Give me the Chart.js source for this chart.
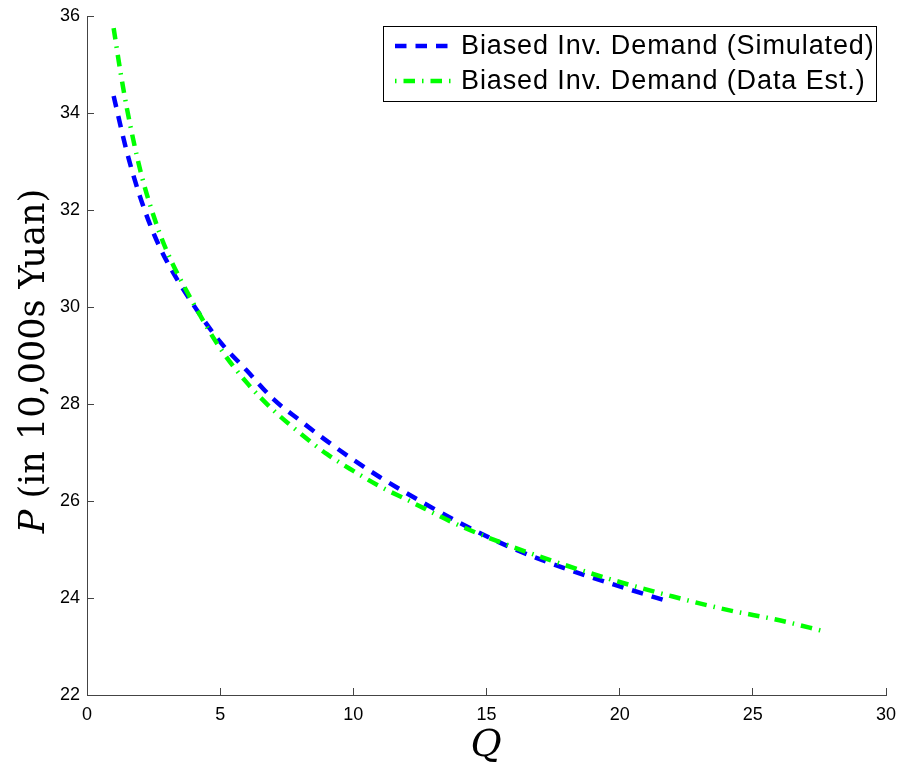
<!DOCTYPE html>
<html>
<head>
<meta charset="utf-8">
<script src="https://cdn.jsdelivr.net/npm/chart.js@4.4.0/dist/chart.umd.min.js"></script>
<style>
    html, body { margin: 0; padding: 0; background: #fff; }
    #wrap { width: 901px; height: 763px; }
</style>
</head>
<body>
<div id="wrap"><canvas id="demandChart" width="901" height="763"></canvas></div>
<script>
// Biased inverse demand, simulated
const simQ = [1, 1.5, 2, 2.5, 3, 4, 5, 6, 7, 8, 9, 10, 11, 12, 14, 16, 18, 20, 21.7];
const simP = [34.35, 33.19, 32.26, 31.52, 30.94, 30.04, 29.28, 28.69, 28.10, 27.66, 27.24, 26.85, 26.49, 26.16, 25.55, 25.02, 24.60, 24.24, 23.95];

// Biased inverse demand, estimated from data
const estQ = [1, 1.25, 1.5, 2, 2.5, 3, 4, 5, 6, 7, 8, 9, 10, 11, 12, 14, 16, 18, 20, 22, 24, 26, 27.7];
const estP = [35.75, 34.87, 34.09, 32.82, 31.88, 31.15, 30.07, 29.15, 28.44, 27.87, 27.40, 26.97, 26.62, 26.30, 26.03, 25.49, 25.05, 24.67, 24.33, 24.03, 23.76, 23.54, 23.31];

// Axis ticks
const xTicks = [0, 5, 10, 15, 20, 25, 30];
const yTicks = [22, 24, 26, 28, 30, 32, 34, 36];

const seriesLabels = ['Biased Inv. Demand (Simulated)', 'Biased Inv. Demand (Data Est.)'];

const toPoints = (xs, ys) => xs.map((x, i) => ({ x: x, y: ys[i] }));

// legend box drawn inside the plot, top right
const legendBox = {
    id: 'legendBox',
    afterDatasetsDraw(chart) {
        const ctx = chart.ctx;
        const left = 383, top = 26, right = 876, bottom = 101;
        ctx.save();
        ctx.fillStyle = '#fff';
        ctx.fillRect(left, top, right - left, bottom - top);
        ctx.strokeStyle = '#000';
        ctx.lineWidth = 1;
        ctx.strokeRect(left + 0.5, top + 0.5, right - left, bottom - top);

        const rows = [46, 81];
        // rows: simulated first, then data est.
        const ds = [chart.data.datasets[1], chart.data.datasets[0]];
        const offsets = [0, 18.5];
        ds.forEach((d, i) => {
            ctx.beginPath();
            ctx.setLineDash(d.borderDash);
            ctx.lineDashOffset = offsets[i];
            ctx.strokeStyle = d.borderColor;
            ctx.lineWidth = d.borderWidth;
            ctx.moveTo(395, rows[i]);
            ctx.lineTo(454, rows[i]);
            ctx.stroke();
        });
        ctx.setLineDash([]);
        ctx.fillStyle = '#000';
        ctx.font = '27px "Liberation Sans", Arial, sans-serif';
        ctx.letterSpacing = '0.9px';
        ctx.textBaseline = 'middle';
        ctx.textAlign = 'left';
        ctx.fillText(seriesLabels[0], 461, rows[0] + 1);
        ctx.fillText(seriesLabels[1], 461, rows[1] + 1);
        ctx.restore();
    }
};

// axis titles in serif, with italic variable names
const axisTitles = {
    id: 'axisTitles',
    afterDraw(chart) {
        const ctx = chart.ctx;
        ctx.save();
        ctx.fillStyle = '#000';
        ctx.textBaseline = 'alphabetic';

        // x title
        ctx.font = 'italic 38px "DejaVu Serif", serif';
        ctx.textAlign = 'center';
        ctx.fillText('Q', 486, 756);

        // y title, rotated
        const italicFont = 'italic 35px "DejaVu Serif", serif';
        const plainFont = '35px "DejaVu Serif", serif';
        ctx.font = italicFont;
        const wP = ctx.measureText('P').width;
        ctx.font = plainFont;
        const rest = ' (in 10,000s Yuan)';
        const wRest = ctx.measureText(rest).width;
        const total = wP + wRest;
        ctx.translate(44, 361);
        ctx.rotate(-Math.PI / 2);
        ctx.textAlign = 'left';
        ctx.font = italicFont;
        ctx.fillText('P', -total / 2, 0);
        ctx.font = plainFont;
        ctx.fillText(rest, -total / 2 + wP, 0);
        ctx.restore();
    }
};

document.addEventListener('DOMContentLoaded', () => {
    const ctx = document.getElementById('demandChart').getContext('2d');
    const tickFont = { family: '"Liberation Sans", Arial, sans-serif', size: 18 };

    new Chart(ctx, {
        type: 'line',
        data: {
            datasets: [{
                label: seriesLabels[1],
                data: toPoints(estQ, estP),
                borderColor: '#00ff00',
                borderWidth: 4.5,
                borderDash: [11.5, 7, 1.5, 7],
                borderCapStyle: 'butt',
                pointRadius: 0,
                cubicInterpolationMode: 'monotone',
                fill: false,
                order: 0
            }, {
                label: seriesLabels[0],
                data: toPoints(simQ, simP),
                borderColor: '#0000ff',
                borderWidth: 4.5,
                borderDash: [11.5, 9],
                borderCapStyle: 'butt',
                pointRadius: 0,
                cubicInterpolationMode: 'monotone',
                fill: false,
                order: 1
            }]
        },
        options: {
            responsive: false,
            animation: false,
            events: [],
            layout: {
                padding: { top: 16, right: 15, left: 0, bottom: 0 }
            },
            plugins: {
                legend: { display: false },
                tooltip: { enabled: false }
            },
            scales: {
                x: {
                    type: 'linear',
                    min: 0,
                    max: 30,
                    afterBuildTicks: s => { s.ticks = xTicks.map(v => ({ value: v })); },
                    afterFit: s => {
                        s.height = 68;
                        s.paddingLeft = 0;
                        s.paddingRight = 0;
                    },
                    border: { display: true, color: '#444', width: 1 },
                    grid: { drawOnChartArea: false, drawTicks: true, tickLength: -7, color: '#444' },
                    ticks: { font: tickFont, color: '#000', padding: 16, maxRotation: 0 }
                },
                y: {
                    type: 'linear',
                    min: 22,
                    max: 36,
                    afterBuildTicks: s => { s.ticks = yTicks.map(v => ({ value: v })); },
                    afterFit: s => {
                        s.width = 87;
                        s.paddingTop = 0;
                        s.paddingBottom = 0;
                    },
                    border: { display: true, color: '#444', width: 1 },
                    grid: { drawOnChartArea: false, drawTicks: true, tickLength: -7, color: '#444' },
                    ticks: { font: tickFont, color: '#000', padding: 14 }
                }
            }
        },
        plugins: [legendBox, axisTitles]
    });
});
</script>
</body>
</html>
